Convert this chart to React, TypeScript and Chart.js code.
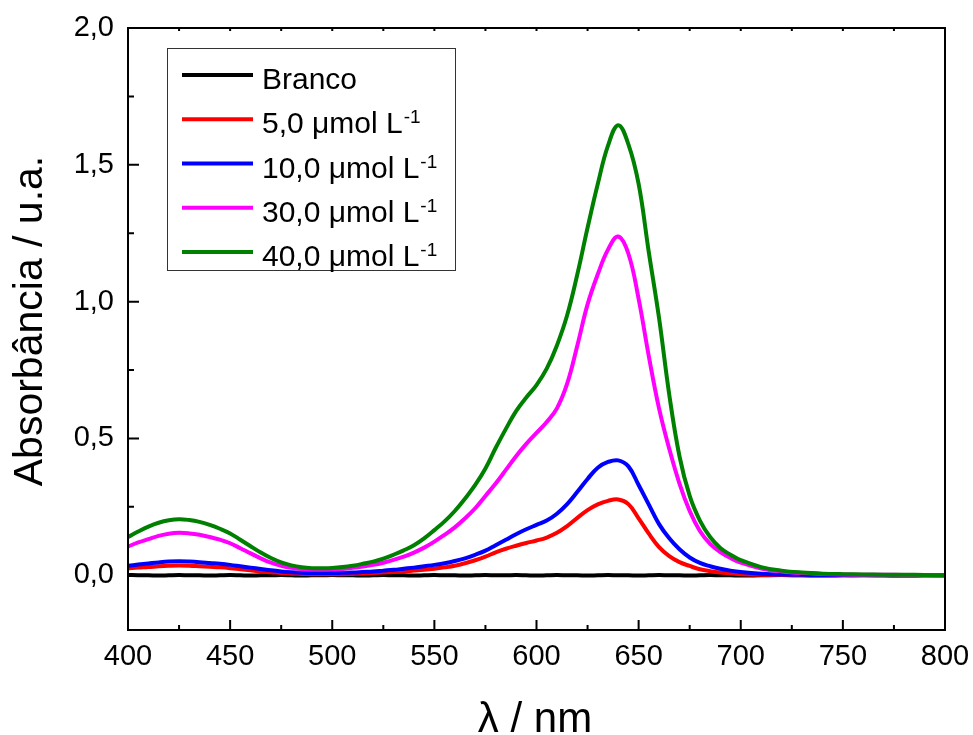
import React, { useEffect, useRef } from "react";
import { Chart, registerables } from "chart.js";

Chart.register(...registerables);

const FONT = '"Liberation Sans", Arial, Helvetica, sans-serif';

const wavelengths = [
  400, 405, 410, 415, 420, 425, 430, 435, 440, 445,
  450, 455, 460, 465, 470, 475, 480, 485, 490, 495,
  500, 505, 510, 515, 520, 525, 530, 535, 540, 545,
  550, 555, 560, 565, 570, 575, 580, 585, 590, 595,
  600, 605, 610, 615, 620, 625, 630, 635, 640, 645,
  650, 655, 660, 665, 670, 675, 680, 685, 690, 695,
  700, 710, 720, 730, 740, 750, 760, 770, 780, 790,
  800,
];

const branco = [
  0.001, 0.0, 0.0, -0.001, 0.0, 0.001, 0.0, 0.0, -0.001, 0.0,
  0.001, 0.0, -0.001, 0.0, 0.0, 0.001, 0.0, -0.001, 0.0, 0.0,
  0.001, 0.0, 0.0, -0.001, 0.0, 0.001, 0.0, 0.0, -0.001, 0.0,
  0.001, 0.0, 0.0, -0.001, 0.0, 0.001, 0.0, 0.0, 0.001, 0.0,
  -0.001, 0.0, 0.001, 0.0, 0.0, -0.001, 0.0, 0.001, 0.0, 0.0,
  -0.001, 0.0, 0.001, 0.0, 0.0, -0.001, 0.0, 0.001, 0.0, 0.0,
  -0.001, 0.0, 0.001, 0.0, -0.001, 0.0, 0.001, 0.0, -0.001, 0.0,
  0.0,
];

const conc5 = [
  0.025, 0.028, 0.03, 0.033, 0.035, 0.036, 0.035, 0.033, 0.031, 0.029,
  0.026, 0.022, 0.018, 0.014, 0.011, 0.008, 0.006, 0.005, 0.004, 0.004,
  0.004, 0.004, 0.005, 0.006, 0.008, 0.01, 0.012, 0.014, 0.017, 0.02,
  0.024, 0.029, 0.035, 0.044, 0.055, 0.068, 0.084, 0.097, 0.108, 0.118,
  0.127, 0.138, 0.155, 0.18, 0.21, 0.238, 0.259, 0.272, 0.277, 0.26,
  0.208, 0.152, 0.103, 0.07, 0.048, 0.034, 0.022, 0.015, 0.01, 0.007,
  0.004, 0.002, 0.001, 0.0, 0.0, 0.0, 0.0, 0.0, 0.0, 0.0,
  0.0,
];

const conc10 = [
  0.035, 0.039, 0.043, 0.047, 0.05, 0.051, 0.05, 0.048, 0.045, 0.042,
  0.038, 0.033, 0.028, 0.023, 0.018, 0.014, 0.011, 0.009, 0.008, 0.008,
  0.008, 0.009, 0.01, 0.012, 0.014, 0.017, 0.02, 0.024, 0.028, 0.033,
  0.038, 0.044, 0.052, 0.062, 0.075, 0.09, 0.11, 0.13, 0.15, 0.168,
  0.184, 0.2, 0.225, 0.26, 0.305, 0.352, 0.393, 0.414, 0.42, 0.398,
  0.33, 0.258, 0.187, 0.135, 0.095, 0.065, 0.045, 0.033, 0.024, 0.017,
  0.012, 0.006, 0.003, 0.002, 0.001, 0.001, 0.0, 0.0, 0.0, 0.0,
  0.0,
];

const conc30 = [
  0.105, 0.12, 0.132, 0.144, 0.152, 0.155, 0.153, 0.148, 0.14, 0.13,
  0.117, 0.099, 0.08, 0.062, 0.046, 0.035, 0.027, 0.022, 0.02, 0.02,
  0.021, 0.023, 0.027, 0.032, 0.038, 0.046, 0.056, 0.068, 0.083, 0.101,
  0.123, 0.148, 0.175, 0.208, 0.245, 0.29, 0.335, 0.385, 0.435, 0.48,
  0.52, 0.56, 0.61, 0.7, 0.84, 0.99, 1.1, 1.19, 1.238, 1.175,
  1.01, 0.8, 0.61, 0.462, 0.335, 0.235, 0.162, 0.115, 0.085, 0.063,
  0.046, 0.025, 0.014, 0.008, 0.005, 0.003, 0.002, 0.002, 0.001, 0.001,
  0.0,
];

const conc40 = [
  0.14, 0.16, 0.178, 0.192, 0.201, 0.205, 0.202, 0.195, 0.184, 0.17,
  0.153, 0.13, 0.106, 0.083, 0.063, 0.047, 0.036, 0.029, 0.026, 0.026,
  0.027, 0.03, 0.035, 0.042, 0.05, 0.061, 0.075, 0.091, 0.11, 0.135,
  0.165, 0.197, 0.235, 0.28, 0.33, 0.39, 0.465, 0.535, 0.6, 0.65,
  0.695, 0.755, 0.84, 0.95, 1.1, 1.27, 1.43, 1.57, 1.645, 1.575,
  1.43, 1.18, 0.94, 0.66, 0.435, 0.29, 0.2, 0.14, 0.1, 0.075,
  0.055, 0.03, 0.017, 0.01, 0.006, 0.004, 0.003, 0.002, 0.002, 0.001,
  0.0,
];

const seriesValues = [branco, conc5, conc10, conc30, conc40];
const seriesLabels = ["Branco", "5,0 \u03bcmol L", "10,0 \u03bcmol L", "30,0 \u03bcmol L", "40,0 \u03bcmol L"];
const seriesSuperscripts = ["", "-1", "-1", "-1", "-1"];
const seriesColors = ["#000000", "#ff0000", "#0000ff", "#ff00ff", "#008000"];

const xTicks = [400, 450, 500, 550, 600, 650, 700, 750, 800];
const xMinorTicks = [425, 475, 525, 575, 625, 675, 725, 775];
const yTicks = [0, 0.5, 1.0, 1.5, 2.0];
const yMinorTicks = [0.25, 0.75, 1.25, 1.75];

const xTitle = "\u03bb / nm";
const yTitle = "Absorb\u00e2ncia / u.a.";

const framePlugin = {
  id: "framePlugin",
  afterDatasetsDraw(chart: any) {
    const { ctx, chartArea } = chart;
    const { left, right, top, bottom } = chartArea;
    const xs = chart.scales.x;
    const ys = chart.scales.y;
    ctx.save();
    ctx.strokeStyle = "#000";
    ctx.lineWidth = 2;
    ctx.strokeRect(left, top, right - left, bottom - top);
    ctx.beginPath();
    xTicks.forEach((v) => {
      const px = xs.getPixelForValue(v);
      ctx.moveTo(px, bottom);
      ctx.lineTo(px, bottom - 10);
      ctx.moveTo(px, top);
      ctx.lineTo(px, top + 3);
    });
    xMinorTicks.forEach((v) => {
      const px = xs.getPixelForValue(v);
      ctx.moveTo(px, bottom);
      ctx.lineTo(px, bottom - 5);
      ctx.moveTo(px, top);
      ctx.lineTo(px, top + 3);
    });
    yTicks.forEach((v) => {
      const py = ys.getPixelForValue(v);
      ctx.moveTo(left, py);
      ctx.lineTo(left + 11, py);
    });
    yMinorTicks.forEach((v) => {
      const py = ys.getPixelForValue(v);
      ctx.moveTo(left, py);
      ctx.lineTo(left + 6, py);
    });
    ctx.stroke();

    // legend
    const bx = 167.5, by = 48.5, bw = 288, bh = 222;
    ctx.fillStyle = "#fff";
    ctx.fillRect(bx, by, bw, bh);
    ctx.lineWidth = 1;
    ctx.strokeStyle = "#333";
    ctx.strokeRect(bx, by, bw, bh);
    seriesLabels.forEach((label, i) => {
      const rowY = 75 + i * 44.25;
      ctx.strokeStyle = seriesColors[i];
      ctx.lineWidth = 4;
      ctx.beginPath();
      ctx.moveTo(182, rowY);
      ctx.lineTo(253, rowY);
      ctx.stroke();
      ctx.fillStyle = "#000";
      ctx.textAlign = "left";
      ctx.textBaseline = "alphabetic";
      ctx.font = `30px ${FONT}`;
      ctx.fillText(label, 262, rowY + 14);
      const w = ctx.measureText(label).width;
      if (seriesSuperscripts[i]) {
        ctx.font = `19px ${FONT}`;
        ctx.fillText(seriesSuperscripts[i], 262 + w + 1, rowY + 4);
      }
    });

    // axis titles
    ctx.fillStyle = "#000";
    ctx.font = `42px ${FONT}`;
    ctx.textAlign = "center";
    ctx.textBaseline = "alphabetic";
    ctx.fillText(xTitle, 535, 732);
    ctx.save();
    ctx.translate(42, 321);
    ctx.rotate(-Math.PI / 2);
    ctx.font = `41px ${FONT}`;
    ctx.fillText(yTitle, 0, 0);
    ctx.restore();
    ctx.restore();
  },
};

export default function App() {
  const canvasRef = useRef<HTMLCanvasElement | null>(null);

  useEffect(() => {
    document.body.style.margin = "0";
    const canvas = canvasRef.current;
    if (!canvas) return;
    const datasets = seriesValues.map((vals, i) => ({
      label: seriesLabels[i],
      data: wavelengths.map((w, j) => ({ x: w, y: vals[j] })),
      borderColor: seriesColors[i],
      backgroundColor: seriesColors[i],
      borderWidth: 4,
      pointRadius: 0,
      tension: 0.4,
      fill: false,
      order: seriesValues.length - i,
    }));
    const chart = new Chart(canvas, {
      type: "line",
      data: { datasets },
      options: {
        animation: false,
        responsive: false,
        maintainAspectRatio: false,
        devicePixelRatio: 1,
        layout: { padding: { top: 28, right: 28, left: 0, bottom: 0 } },
        plugins: {
          legend: { display: false },
          tooltip: { enabled: false },
        },
        scales: {
          x: {
            type: "linear",
            min: 400,
            max: 800,
            afterBuildTicks: (s: any) => {
              s.ticks = xTicks.map((v) => ({ value: v }));
            },
            afterFit: (s: any) => {
              s.height = 105;
              s.paddingLeft = 0;
              s.paddingRight = 0;
              s.paddingTop = 0;
              s.paddingBottom = 0;
            },
            grid: { display: false, drawTicks: false },
            border: { display: false },
            ticks: {
              padding: 10,
              color: "#000",
              maxRotation: 0,
              autoSkip: false,
              font: { family: FONT, size: 29 },
              callback: (v: any) => String(v),
            },
          },
          y: {
            type: "linear",
            min: -0.2,
            max: 2.0,
            afterBuildTicks: (s: any) => {
              s.ticks = yTicks.map((v) => ({ value: v }));
            },
            afterFit: (s: any) => {
              s.width = 128;
              s.paddingLeft = 0;
              s.paddingRight = 0;
              s.paddingTop = 0;
              s.paddingBottom = 0;
            },
            grid: { display: false, drawTicks: false },
            border: { display: false },
            ticks: {
              padding: 14,
              color: "#000",
              autoSkip: false,
              font: { family: FONT, size: 29 },
              callback: (v: any) => Number(v).toFixed(1).replace(".", ","),
            },
          },
        },
      },
      plugins: [framePlugin],
    });
    return () => chart.destroy();
  }, []);

  return (
    <div style={{ width: 973, height: 735, background: "#fff" }}>
      <canvas ref={canvasRef} width={973} height={735} style={{ display: "block" }} />
    </div>
  );
}
